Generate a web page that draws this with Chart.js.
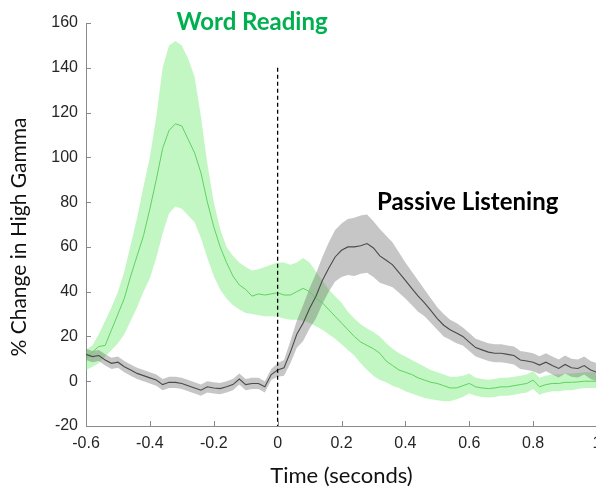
<!DOCTYPE html>
<html>
<head>
<meta charset="utf-8">
<script src="https://cdn.jsdelivr.net/npm/chart.js@4/dist/chart.umd.min.js"></script>
<style>
  html, body { margin: 0; padding: 0; background: #fff; overflow: hidden; }
  canvas { display: block; }
</style>
</head>
<body>
<canvas id="c" width="620" height="487"></canvas>
<script>
// Time relative to stimulus onset (seconds)
const time = [-0.6,-0.58,-0.56,-0.54,-0.52,-0.5,-0.48,-0.46,-0.44,-0.42,
  -0.4,-0.38,-0.36,-0.34,-0.32,-0.3,-0.28,-0.26,-0.24,-0.22,
  -0.2,-0.18,-0.16,-0.14,-0.12,-0.1,-0.08,-0.06,-0.04,-0.02,
  0,
  0.02,0.04,0.06,0.08,0.1,0.12,0.14,0.16,0.18,0.2,
  0.22,0.24,0.26,0.28,0.3,0.32,0.34,0.36,0.38,0.4,
  0.42,0.44,0.46,0.48,0.5,0.52,0.54,0.56,0.58,0.6,
  0.62,0.64,0.66,0.68,0.7,0.72,0.74,0.76,0.78,0.8,
  0.82,0.84,0.86,0.88,0.9,0.92,0.94,0.96,0.98,1];

// Word Reading: mean % change in high gamma and its error band
const wordMean = [10,13,15.5,16,23,30,37,47,56,65,
  77,90,104,112,115,114,108,102,93,80,
  69,60,53,47,43,41,38,39,38.5,39,
  39.5,
  38.5,38.5,40,41.5,40,37,35,32,29,26,
  23,20,17.5,16,14.5,12.5,9,7,5,4,
  3,1.5,0.5,-0.5,-1,-2,-3,-3,-2,-1,
  -2.5,-3,-3.3,-3,-2.5,-2.5,-2,-1.5,-1,0.5,
  -2.5,-1.5,-1,-1,-0.5,-0.5,-0.3,0,0,0];
const wordUpper = [14,16,21,27,33,40,49,61,73,87,
  100,118,140,150,152,150,144,136,118,97,
  80,68,60,56,53,51,49.5,50,51,52,
  53,
  53,52,53,55,53,49,45,41,38,35,
  31,28,25.5,23.5,22,20,17,14.5,12.5,11,
  9.5,8,6.5,5,4,3,2,2,2.5,3.5,
  1.5,1,0.7,1,1.5,1.5,2,2.5,3,4.5,
  1.5,2.5,3,3,3.5,3.5,3.7,4,4,4];
const wordLower = [5,6.5,8,11,14,17,21,27,33,40,
  46,55,66,75,78,77,74,71,64,55,
  47,41,37,34,32,30.5,30,29.5,29,29,
  28.8,
  28,27.5,27.5,27,26,24.5,23,21,19,16.5,
  14,11.5,8,5,2.5,0.5,-0.5,-2,-3,-4.5,
  -5.5,-6.5,-7.5,-8,-8.5,-9,-9,-8,-7,-5.5,
  -6.5,-7,-7.3,-7,-6.5,-6.5,-6,-5.5,-5,-3.5,
  -6,-5,-4.5,-4.5,-4,-4,-3.5,-3,-3,-3];

// Passive Listening: mean % change in high gamma and its error band
const listenMean = [12,11,11.5,9.5,8,8.5,6.5,5,3.5,2.5,
  1.5,0.5,-1.5,-0.5,-0.5,-1,-2,-3,-4,-2.5,
  -3,-3.3,-2.5,-1.5,1,-1.5,-1,-1,-2.5,3,
  5,
  6,13,21,26,32.5,38,45,50.5,55.5,58.5,
  60,60,60.5,61.5,59.5,56,54,52,48.5,45,
  41.5,38,35,31.5,28,25,23,21.5,20,17.5,
  15,14,13,12.5,12.5,12,11.5,9.5,9,8.5,
  7.2,8.5,7,5.7,7.5,6,5.7,7,5,4];
const listenUpper = [14.5,13.5,14,12,10.5,11,9,7.5,6,5,
  4,3,1,2,2,1.5,0.5,-0.5,-1.5,0,
  -0.5,-0.8,0,1,3.5,1,1.5,1.5,0,5.5,
  8,
  9.5,18,27,34,41.5,48,55.5,62,67.5,70.5,
  72.5,73,74,74.5,71.5,68,65,62,57.5,53,
  49,45,41,37,33,30,27.5,26,24,21.5,
  19,18,17,16.5,16.5,16,15.5,13.5,13,12.5,
  11.2,12.5,11,9.7,11.5,10,9.7,11,9,8];
const listenLower = [9.5,8.5,9,7,5.5,6,4,2.5,1,0,
  -1,-2,-4,-3,-3,-3.5,-4.5,-5.5,-6.5,-5,
  -5.5,-5.8,-5,-4,-1.5,-4,-3.5,-3.5,-5,0.5,
  2,
  2.5,8,15,18,23.5,28,34.5,40,44.5,46.5,
  47.5,47,48,48.5,46.5,44,43,42,39.5,37,
  34,31,29,26,23,20,18.5,17,16,13.5,
  11,10,9,8.5,8.5,8,7.5,5.5,5,4.5,
  3.2,4.5,3,1.7,3.5,2,1.7,3,1,0];

// Axis ticks
const xTicks = [-0.6,-0.4,-0.2,0,0.2,0.4,0.6,0.8,1];
const yTicks = [-20,0,20,40,60,80,100,120,140,160];

// Stimulus onset marker: time and vertical extent
const onsetTime = 0;
const onsetSpan = [140, -20];

const axisColor = '#8a8a8a';
const tickColor = '#262626';

const pts = ys => time.map((t, i) => ({ x: t, y: ys[i] }));
const noLine = { pointRadius: 0, borderColor: 'rgba(0,0,0,0)', borderWidth: 1, tension: 0 };

const overlay = {
  id: 'overlay',
  afterDraw(chart) {
    const { ctx, chartArea: a, scales: { x, y } } = chart;
    ctx.save();
    // inward tick marks
    ctx.strokeStyle = axisColor;
    ctx.lineWidth = 1;
    ctx.beginPath();
    xTicks.forEach(v => {
      const px = Math.round(x.getPixelForValue(v)) + 0.5;
      ctx.moveTo(px, a.bottom);
      ctx.lineTo(px, a.bottom - 5);
    });
    yTicks.forEach(v => {
      const py = Math.round(y.getPixelForValue(v)) + 0.5;
      ctx.moveTo(a.left, py);
      ctx.lineTo(a.left + 5, py);
    });
    ctx.stroke();

    // axis titles
    ctx.fillStyle = '#111';
    ctx.textAlign = 'center';
    ctx.textBaseline = 'alphabetic';
    ctx.font = '22px Lato';
    ctx.fillText('Time (seconds)', (a.left + a.right) / 2, 483);
    ctx.save();
    ctx.translate(26, 237);
    ctx.rotate(-Math.PI / 2);
    ctx.font = '21px Lato';
    ctx.fillText('% Change in High Gamma', 0, 0);
    ctx.restore();

    // condition labels
    ctx.font = 'bold 24px Lato';
    ctx.fillStyle = '#00b050';
    ctx.fillText('Word Reading', x.getPixelForValue(-0.08), y.getPixelForValue(157));
    ctx.textAlign = 'left';
    ctx.fillStyle = '#000';
    ctx.fillText('Passive Listening', x.getPixelForValue(0.311), y.getPixelForValue(76.5));
    ctx.restore();
  }
};

new Chart(document.getElementById('c'), {
  type: 'line',
  data: {
    datasets: [
      { label: 'wordUpper', data: pts(wordUpper), ...noLine, fill: '+1',
        backgroundColor: 'rgba(120,235,120,0.45)', order: 6 },
      { label: 'wordLower', data: pts(wordLower), ...noLine, fill: false, order: 6 },
      { label: 'listenUpper', data: pts(listenUpper), ...noLine, fill: '+1',
        backgroundColor: 'rgba(105,105,105,0.38)', order: 5 },
      { label: 'listenLower', data: pts(listenLower), ...noLine, fill: false, order: 5 },
      { label: 'Word Reading', data: pts(wordMean), pointRadius: 0, tension: 0,
        borderColor: 'rgb(95,210,95)', borderWidth: 1, fill: false, order: 3 },
      { label: 'Passive Listening', data: pts(listenMean), pointRadius: 0, tension: 0,
        borderColor: 'rgb(75,75,75)', borderWidth: 1.1, fill: false, order: 2 },
      { label: 'onset', data: onsetSpan.map(v => ({ x: onsetTime, y: v })), pointRadius: 0,
        borderColor: '#000', borderDash: [4, 3], borderWidth: 1.3, fill: false, order: 1 }
    ]
  },
  options: {
    responsive: false,
    animation: false,
    events: [],
    layout: { padding: { left: 0, right: 23, top: 23, bottom: 0 } },
    plugins: {
      legend: { display: false },
      tooltip: { enabled: false },
      filler: { propagate: false }
    },
    scales: {
      x: {
        type: 'linear', min: -0.6, max: 1,
        afterBuildTicks: s => { s.ticks = xTicks.map(v => ({ value: v })); },
        afterFit: s => { s.height = 61; },
        grid: { display: false, drawTicks: false },
        border: { display: true, color: axisColor, width: 1 },
        ticks: {
          padding: 8, color: tickColor, autoSkip: false, maxRotation: 0,
          font: { family: 'Liberation Sans, Arial, sans-serif', size: 16 },
          callback: v => String(Math.round(v * 10) / 10)
        }
      },
      y: {
        type: 'linear', min: -20, max: 160,
        afterBuildTicks: s => { s.ticks = yTicks.map(v => ({ value: v })); },
        afterFit: s => { s.width = 86; },
        grid: { display: false, drawTicks: false },
        border: { display: true, color: axisColor, width: 1 },
        ticks: {
          padding: 8, color: tickColor, autoSkip: false,
          font: { family: 'Liberation Sans, Arial, sans-serif', size: 16 },
          callback: v => String(v)
        }
      }
    }
  },
  plugins: [overlay]
});
</script>
</body>
</html>
